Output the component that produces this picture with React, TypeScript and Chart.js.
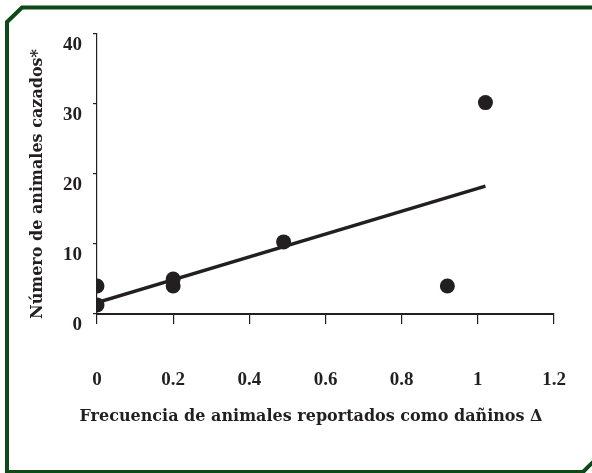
import React, { useEffect, useRef } from "react";
import { Chart, registerables } from "chart.js";

Chart.register(...registerables);

// ---- data ----
const pointX = [0, 0, 0.2, 0.2, 0.49, 0.92, 1.02];
const pointY = [1.3, 4, 5, 4, 10.3, 4, 30.2];
const trendX = [0, 1.02];
const trendY = [1.64, 18.26];
const xTickValues = [0, 0.2, 0.4, 0.6, 0.8, 1, 1.2];
const xTickLabels = ["0", "0.2", "0.4", "0.6", "0.8", "1", "1.2"];
const yTickValues = [0, 10, 20, 30, 40];
const yTickLabels = ["0", "10", "20", "30", "40"];
const xTitle = "Frecuencia de animales reportados como dañinos Δ";
const yTitle = "Número de animales cazados*";

const INK = "#231f20";
const FRAME = "#0e4a16";

const framePlugin = {
  id: "frame",
  beforeDraw(chart: any) {
    const ctx = chart.ctx;
    ctx.save();
    ctx.fillStyle = "#ffffff";
    ctx.fillRect(0, 0, chart.width, chart.height);
    ctx.strokeStyle = FRAME;
    ctx.lineWidth = 4;
    ctx.lineJoin = "miter";
    ctx.beginPath();
    ctx.moveTo(7, 22);
    ctx.lineTo(22, 7.5);
    ctx.lineTo(600, 7.5);
    ctx.lineTo(600, 455);
    ctx.lineTo(583, 472);
    ctx.lineTo(7, 472);
    ctx.closePath();
    ctx.stroke();
    ctx.restore();
  },
  afterDraw(chart: any) {
    const ctx = chart.ctx;
    ctx.save();
    ctx.fillStyle = INK;
    ctx.font = "bold 16px 'DejaVu Serif'";
    ctx.textAlign = "center";
    ctx.textBaseline = "middle";
    ctx.save();
    ctx.translate(38, 184);
    ctx.rotate(-Math.PI / 2);
    ctx.fillText(yTitle, 0, 0);
    ctx.restore();
    ctx.font = "bold 16px 'DejaVu Serif'";
    ctx.fillText(xTitle, 311, 417);
    ctx.restore();
  },
};

export default function App() {
  const ref = useRef<HTMLCanvasElement>(null);
  useEffect(() => {
    if (!ref.current) return;
    const chart = new Chart(ref.current, {
      type: "scatter",
      data: {
        datasets: [
          {
            type: "line",
            data: trendX.map((x, i) => ({ x, y: trendY[i] })),
            borderColor: INK,
            borderWidth: 3.5,
            pointRadius: 0,
            fill: false,
            order: 2,
          } as any,
          {
            type: "scatter",
            data: pointX.map((x, i) => ({ x, y: pointY[i] })),
            backgroundColor: INK,
            borderColor: INK,
            borderWidth: 0,
            pointRadius: 7.5,
            order: 1,
          },
        ],
      },
      options: {
        responsive: false,
        animation: false,
        layout: { padding: { top: 34, right: 38, bottom: 0, left: 0 } },
        plugins: {
          legend: { display: false },
          tooltip: { enabled: false },
          title: { display: false },
        },
        scales: {
          x: {
            type: "linear",
            min: 0,
            max: 1.2,
            afterBuildTicks: (s: any) => {
              s.ticks = xTickValues.map((v) => ({ value: v }));
            },
            afterFit: (s: any) => {
              s.height = 473 - 314;
              s.paddingLeft = 0;
              s.paddingRight = 14;
            },
            ticks: {
              callback: (_v: any, i: number) => xTickLabels[i],
              color: INK,
              font: { family: "'Liberation Serif'", weight: "bold", size: 19 },
              padding: 45,
              maxRotation: 0,
              autoSkip: false,
            },
            grid: {
              drawOnChartArea: false,
              drawTicks: true,
              tickLength: 10,
              color: INK,
              lineWidth: 1.2,
            },
            border: { display: true, color: INK, width: 2 },
          },
          y: {
            type: "linear",
            min: 0,
            max: 40,
            afterBuildTicks: (s: any) => {
              s.ticks = yTickValues.map((v) => ({ value: v }));
            },
            afterFit: (s: any) => {
              s.width = 97;
            },
            ticks: {
              callback: (_v: any, i: number) => yTickLabels[i],
              color: INK,
              font: { family: "'Liberation Serif'", weight: "bold", size: 19 },
              padding: 11,
              labelOffset: 11,
            },
            grid: {
              drawOnChartArea: false,
              drawTicks: true,
              tickLength: 4,
              color: INK,
              lineWidth: 1.2,
            },
            border: { display: true, color: INK, width: 1.2 },
          },
        },
      },
      plugins: [framePlugin],
    });
    return () => chart.destroy();
  }, []);
  return (
    <div style={{ position: "absolute", left: 0, top: 0, width: 592, height: 473 }}>
      <canvas ref={ref} width={592} height={473} style={{ display: "block" }} />
    </div>
  );
}
